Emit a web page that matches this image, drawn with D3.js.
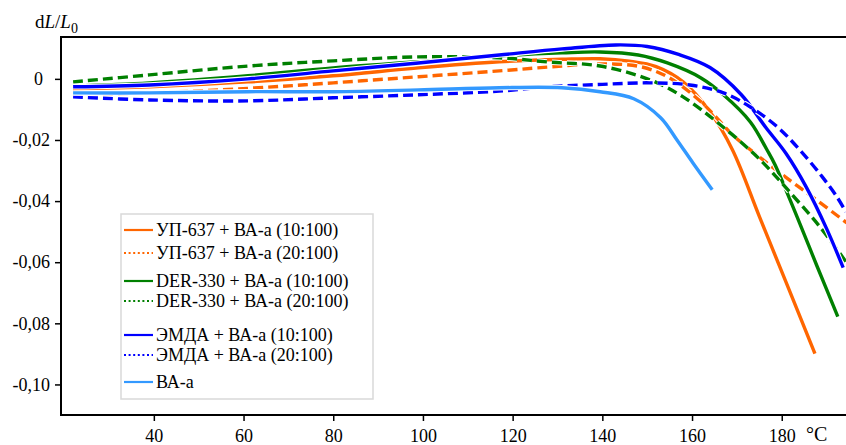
<!DOCTYPE html>
<html>
<head>
<meta charset="utf-8">
<script src="https://cdn.jsdelivr.net/npm/d3@7"></script>
<style>
  body { margin: 0; background: #fff; }
</style>
</head>
<body>
<script>
// temperatures (°C) and dL/L0 values
var up10_t  = [22, 39, 61, 80, 99, 117, 131, 139.5, 146, 152, 158, 164, 169, 175, 181, 187.4];
var up10_v  = [-0.0033, -0.0026, -0.0010, 0.0010, 0.0036, 0.0056, 0.0064, 0.0066, 0.0058, 0.0040, -0.0010, -0.0108, -0.0232, -0.0450, -0.0667, -0.0899];

var up20_t  = [22, 39, 61, 80, 99, 117, 131, 139.5, 148.5, 155, 162, 165, 169, 173, 180, 187, 194.5];
var up20_v  = [-0.0052, -0.0046, -0.0031, -0.0013, 0.0007, 0.0026, 0.0042, 0.0049, 0.0040, 0.0003, -0.0075, -0.0120, -0.0183, -0.0232, -0.0312, -0.0388, -0.0471];

var der10_t = [22, 39, 61, 80, 99, 117, 131, 139.5, 148, 154.5, 162, 167, 173, 176.7, 178.5, 183.4, 187.9, 192.5];
var der10_v = [-0.0023, -0.0013, 0.0010, 0.0036, 0.0056, 0.0075, 0.0085, 0.0088, 0.0078, 0.0052, 0.0003, -0.0052, -0.0141, -0.0232, -0.0281, -0.0451, -0.0614, -0.0778];

var der20_t = [22, 39, 61, 80, 99, 117, 128, 139.5, 150.6, 158, 166.3, 175.2, 182.3, 188.5, 194.3];
var der20_v = [-0.0010, 0.0013, 0.0042, 0.0059, 0.0072, 0.0069, 0.0055, 0.0042, -0.0003, -0.0059, -0.0150, -0.0265, -0.0379, -0.0484, -0.0598];

var emda10_t = [22, 39, 61, 80, 99, 117, 131, 143, 150, 157, 164, 171, 176.5, 181, 185.5, 190, 193.7];
var emda10_v = [-0.0026, -0.0020, 0.0000, 0.0026, 0.0052, 0.0078, 0.0098, 0.0111, 0.0106, 0.0080, 0.0037, -0.0052, -0.0160, -0.0245, -0.0355, -0.0490, -0.0618];

var emda20_t = [22, 39, 61, 80, 99, 117, 128, 140, 150.5, 159.5, 167, 173, 179, 184, 189, 192.3, 194.3];
var emda20_v = [-0.0059, -0.0069, -0.0072, -0.0062, -0.0052, -0.0040, -0.0026, -0.0018, -0.0013, -0.0020, -0.0046, -0.0092, -0.0157, -0.0232, -0.0320, -0.0386, -0.0435];

var vaa_t = [22, 39, 61, 80, 99, 117, 131, 139.5, 147, 153, 156.6, 160.2, 164.5];
var vaa_v = [-0.0046, -0.0046, -0.0042, -0.0042, -0.0036, -0.0029, -0.0029, -0.0042, -0.0065, -0.0127, -0.0199, -0.0275, -0.0363];

var names  = ["УП-637 + ВА-а (10:100)", "УП-637 + ВА-а (20:100)",
              "DER-330 + ВА-а (10:100)", "DER-330 + ВА-а (20:100)",
              "ЭМДА + ВА-а (10:100)", "ЭМДА + ВА-а (20:100)", "ВА-а"];
var colors = ["#ff6600", "#ff6600", "#008000", "#008000", "#0000ff", "#0000ff", "#3399ff"];
var dashed = [false, true, false, true, false, true, false];

var xTicks = [40, 60, 80, 100, 120, 140, 160, 180];
var yTicks = [0, -0.02, -0.04, -0.06, -0.08, -0.10];

var allT = [up10_t, up20_t, der10_t, der20_t, emda10_t, emda20_t, vaa_t];
var allV = [up10_v, up20_v, der10_v, der20_v, emda10_v, emda20_v, vaa_v];

var series = names.map(function(n, i) {
  return {
    name: n, color: colors[i], dashed: dashed[i],
    points: allT[i].map(function(t, j) { return [t, allV[i][j]]; })
  };
});

var FONT = "'Liberation Serif', 'DejaVu Serif', serif";
var W = 846, H = 445;
var svg = d3.select("body").append("svg")
    .attr("width", W).attr("height", H)
    .style("font-family", FONT);

var x = d3.scaleLinear().domain([19.3, 195]).range([61, 61 + 175.7 * 4.485]);
var y = d3.scaleLinear().domain([-0.11, 0.0137]).range([415, 37]);

var fmt = function(d) { return d === 0 ? "0" : d3.format(".2f")(d).replace(".", ",").replace("−", "-"); };

// axes
var gx = svg.append("g")
    .attr("transform", "translate(0,415)")
    .call(d3.axisBottom(x).tickValues(xTicks).tickSize(6).tickPadding(8));
gx.attr("font-family", null).attr("font-size", null);
gx.select(".domain").remove();
gx.selectAll("line").attr("stroke", "#000").attr("stroke-width", 1.5);
gx.selectAll("text").attr("fill", "#000")
  .style("font-family", FONT).style("font-size", "18px");

var gy = svg.append("g")
    .attr("transform", "translate(61,0)")
    .call(d3.axisLeft(y).tickValues(yTicks).tickFormat(fmt).tickSize(6).tickPadding(5));
gy.attr("font-family", null).attr("font-size", null);
gy.select(".domain").remove();
gy.selectAll("line").attr("stroke", "#000").attr("stroke-width", 1.5);
gy.selectAll("text").attr("fill", "#000")
  .style("font-family", FONT).style("font-size", "18px")
  .attr("dx", function(d) { return d === 0 ? -7 : 0; });

// frame
svg.append("path")
    .attr("d", "M" + (W + 5) + ",37H61V415H" + (W + 5))
    .attr("fill", "none").attr("stroke", "#000").attr("stroke-width", 2);

// lines
var line = d3.line()
    .x(function(d) { return x(d[0]); })
    .y(function(d) { return y(d[1]); })
    .curve(d3.curveCatmullRom.alpha(0.5));

var gl = svg.append("g");
series.forEach(function(s) {
  gl.append("path")
    .attr("d", line(s.points))
    .attr("fill", "none")
    .attr("stroke", "#fff")
    .attr("stroke-width", 5.5)
    .attr("stroke-dasharray", s.dashed ? "10,5" : null);
  gl.append("path")
    .attr("d", line(s.points))
    .attr("fill", "none")
    .attr("stroke", s.color)
    .attr("stroke-width", 3.4)
    .attr("stroke-dasharray", s.dashed ? "10,5" : null);
});

// axis titles
var yt = svg.append("text").attr("x", 35).attr("y", 28)
    .style("font-family", FONT).style("font-size", "19px");
yt.append("tspan").text("d");
yt.append("tspan").style("font-style", "italic").text("L");
yt.append("tspan").text("/");
yt.append("tspan").style("font-style", "italic").text("L");
yt.append("tspan").attr("dy", 5).style("font-size", "14px").text("0");

svg.append("text").attr("x", 806).attr("y", 441)
    .style("font-family", FONT).style("font-size", "20px").text("°C");

// legend
var legY = [230, 253, 281, 301, 335, 355, 382];
var leg = svg.append("g");
leg.append("rect")
    .attr("x", 121).attr("y", 214).attr("width", 252).attr("height", 185)
    .attr("fill", "#fff").attr("stroke", "#d9d9d9").attr("stroke-width", 1.5);

series.forEach(function(s, i) {
  leg.append("line")
    .attr("x1", 124).attr("x2", 153)
    .attr("y1", legY[i]).attr("y2", legY[i])
    .attr("stroke", s.color).attr("stroke-width", 2.2)
    .attr("stroke-dasharray", s.dashed ? "2,2.6" : null);
  leg.append("text")
    .attr("x", 156).attr("y", legY[i]).attr("dy", "0.35em")
    .style("font-family", FONT).style("font-size", "18px")
    .text(s.name);
});
</script>
</body>
</html>
